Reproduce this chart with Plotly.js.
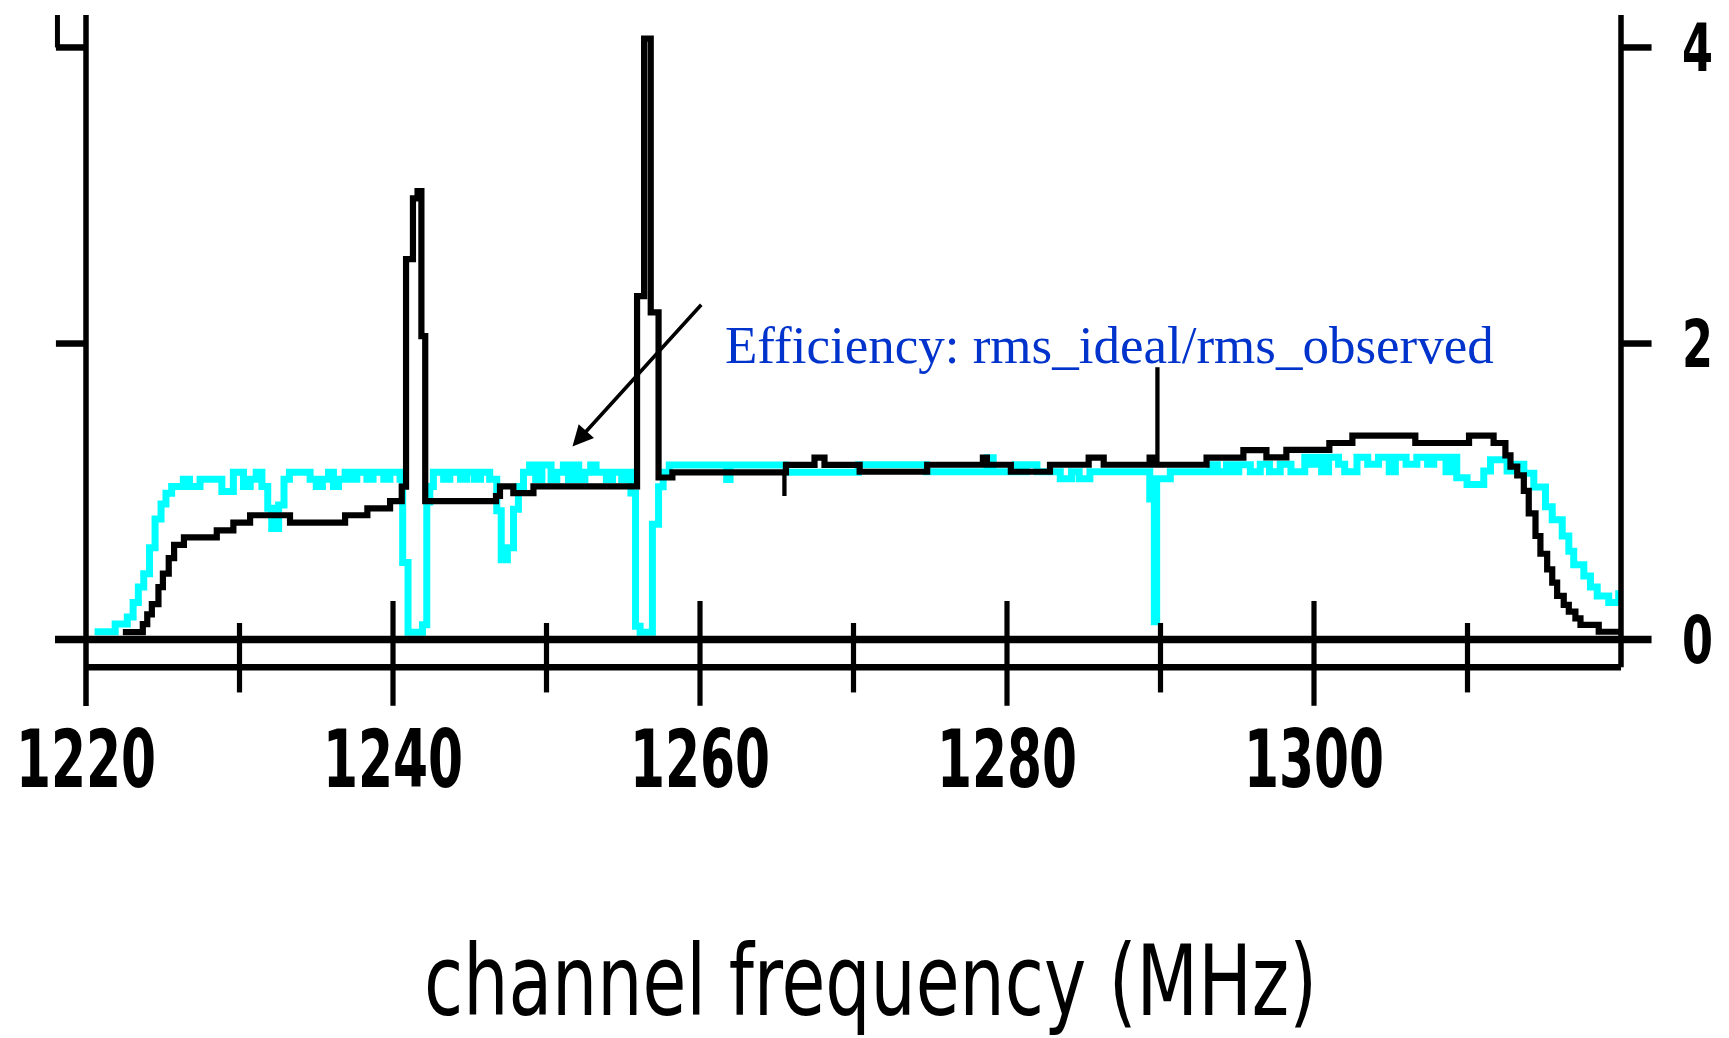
<!DOCTYPE html>
<html>
<head>
<meta charset="utf-8">
<script src="https://cdn.plot.ly/plotly-3.0.1.min.js"></script>
<style>
  html, body { margin: 0; padding: 0; background: #ffffff; }
  #chart { width: 1729px; height: 1038px; }
</style>
</head>
<body>
<div id="chart"></div>
<script>
// ---------------- data ----------------
// black trace: observed rms (step line)
const blackFreq = [1222.4, 1223.7, 1223.99, 1224.29, 1224.72, 1225.01, 1225.39, 1225.74, 1226.38, 1228.52,
  1229.6, 1230.69, 1233.29, 1236.88, 1238.33, 1239.81, 1240.57, 1240.85, 1241.3, 1241.6,
  1241.85, 1242.1, 1246.71, 1246.97, 1247.84, 1249.15, 1255.9, 1256.36, 1256.79, 1257.3,
  1258.2, 1265.6, 1267.46, 1268.11, 1270.4, 1274.8, 1278.43, 1278.69, 1280.25, 1282.8,
  1285.32, 1286.3, 1289.29, 1289.66, 1293.0, 1295.4, 1296.9, 1298.2, 1301.0, 1302.5,
  1306.6, 1310.1, 1311.7, 1312.47, 1312.8, 1313.24, 1313.67, 1313.99, 1314.43, 1314.75,
  1315.19, 1315.52, 1315.84, 1316.27, 1316.6, 1317.03, 1317.36, 1318.55, 1319.97];
const blackVal = [0.05, 0.105, 0.17, 0.24, 0.355, 0.445, 0.55, 0.64, 0.69, 0.738,
  0.79, 0.84, 0.79, 0.84, 0.887, 0.936, 1.033, 2.57, 2.98, 3.03,
  2.05, 0.936, 0.97, 1.035, 0.99, 1.035, 2.32, 4.06, 2.21, 1.095,
  1.13, 1.18, 1.229, 1.18, 1.134, 1.181, 1.229, 1.181, 1.134, 1.181,
  1.229, 1.181, 1.229, 1.181, 1.229, 1.28, 1.231, 1.281, 1.328, 1.378,
  1.328, 1.378, 1.328, 1.244, 1.169, 1.109, 1.004, 0.852, 0.70, 0.58,
  0.475, 0.385, 0.295, 0.234, 0.189, 0.144, 0.099, 0.053, 0.053];

// single-channel black glitches (thin strokes)
const glitchFreq = [1265.5, 1289.8];
const glitchFrom = [1.13, 1.18];
const glitchTo = [0.97, 1.84];

// cyan trace: efficiency rms_ideal / rms_observed (step line)
const cyanFreq = [1220.56, 1221.9, 1222.69, 1223.07, 1223.41, 1223.76, 1224.14, 1224.5, 1224.89, 1225.21,
  1225.58, 1226.34, 1226.74, 1227.43, 1228.85, 1229.6, 1230.26, 1230.7, 1231.09, 1231.46,
  1231.84, 1232.1, 1232.55, 1232.9, 1233.25, 1234.6, 1235.0, 1235.4, 1235.8, 1236.12,
  1236.45, 1236.88, 1237.25, 1237.64, 1238.3, 1238.7, 1239.4, 1239.8, 1240.46, 1240.63,
  1240.98, 1241.92, 1242.2, 1242.4, 1242.63, 1243.3, 1243.7, 1244.4, 1244.8, 1245.3,
  1245.7, 1246.3, 1246.76, 1247.05, 1247.45, 1247.85, 1248.17, 1248.5, 1248.9, 1249.3,
  1249.7, 1250.3, 1250.67, 1251.1, 1251.43, 1251.8, 1252.1, 1252.5, 1252.88, 1253.23,
  1253.9, 1254.3, 1254.9, 1255.2, 1255.5, 1255.8, 1256.1, 1256.9, 1257.3, 1257.6,
  1258.0, 1261.74, 1261.96, 1265.6, 1270.32, 1274.74, 1278.7, 1279.1, 1280.54, 1280.93,
  1281.26, 1281.95, 1283.47, 1284.2, 1284.7, 1285.4, 1289.3, 1289.6, 1289.75, 1290.64,
  1293.25, 1293.7, 1294.3, 1294.7, 1295.1, 1295.85, 1296.5, 1297.1, 1297.8, 1298.5,
  1299.4, 1299.8, 1300.2, 1300.5, 1300.95, 1301.6, 1302.0, 1302.8, 1303.5, 1304.2,
  1304.9, 1305.3, 1306.0, 1306.7, 1307.4, 1307.8, 1308.6, 1308.95, 1309.3, 1309.97,
  1311.06, 1311.5, 1312.58, 1312.9, 1313.67, 1314.32, 1315.08, 1315.52, 1316.17, 1316.6,
  1316.92, 1317.58, 1318.01, 1318.45, 1319.2, 1319.85, 1320.0];
const cyanVal = [0.053, 0.105, 0.153, 0.25, 0.355, 0.445, 0.62, 0.814, 0.916, 0.988,
  1.035, 1.083, 1.035, 1.083, 1.0, 1.13, 1.035, 1.083, 1.13, 1.035,
  0.887, 0.75, 0.91, 1.083, 1.13, 1.083, 1.035, 1.083, 1.13, 1.035,
  1.083, 1.13, 1.083, 1.13, 1.083, 1.13, 1.083, 1.13, 1.083, 0.52,
  0.05, 0.10, 0.93, 1.035, 1.13, 1.083, 1.13, 1.083, 1.13, 1.083,
  1.13, 1.083, 0.87, 0.54, 0.62, 0.88, 1.035, 1.13, 1.179, 1.082,
  1.179, 1.082, 1.13, 1.179, 1.082, 1.179, 1.082, 1.13, 1.179, 1.13,
  1.082, 1.13, 1.082, 1.13, 0.99, 0.09, 0.05, 0.78, 1.033, 1.13,
  1.179, 1.082, 1.179, 1.13, 1.181, 1.134, 1.229, 1.134, 1.181, 1.134,
  1.181, 1.134, 1.087, 1.134, 1.087, 1.134, 0.95, 0.12, 1.087, 1.134,
  1.181, 1.134, 1.181, 1.134, 1.181, 1.134, 1.184, 1.134, 1.184, 1.134,
  1.231, 1.184, 1.231, 1.134, 1.231, 1.184, 1.134, 1.231, 1.184, 1.231,
  1.134, 1.231, 1.184, 1.231, 1.184, 1.231, 1.134, 1.231, 1.094, 1.048,
  1.139, 1.215, 1.139, 1.184, 1.124, 1.03, 0.898, 0.81, 0.70, 0.596,
  0.506, 0.43, 0.355, 0.295, 0.25, 0.31, 0.31];

// axis ticks / labels
const xLabelTicks = [1220, 1240, 1260, 1280, 1300];
const xMajorTicks = [1240, 1260, 1280, 1300];
const xMinorTicks = [1230, 1250, 1270, 1290, 1310];
const yTicks = [0, 2, 4];
const xTitle = 'channel frequency (MHz)';
const noteText = 'Efficiency: rms_ideal/rms_observed';

// ---------------- layout helpers ----------------
const XR = [1220, 1320];
const YR = [-0.408, 4.253];
const px = v => (v - XR[0]) / (XR[1] - XR[0]);
const py = v => (v - YR[0]) / (YR[1] - YR[0]);
const pixelFont = "'DejaVu Sans Condensed', 'DejaVu Sans', sans-serif";

function seg(x0, y0, x1, y1, w) {
  return { type: 'line', xref: 'paper', yref: 'paper',
    x0: px(x0), y0: py(y0), x1: px(x1), y1: py(y1),
    line: { color: '#000000', width: w } };
}

const shapes = [];
shapes.push(seg(XR[0], 4.219, XR[0], -0.449, 5.5));      // left axis
shapes.push(seg(XR[1], 4.219, XR[1], -0.186, 5.5));      // right axis
shapes.push(seg(1217.98, 0, 1321.99, 0, 7.5));           // zero line
shapes.push(seg(XR[0], -0.186, XR[1], -0.186, 6.5));     // lower rule
yTicks.filter(v => v !== 0).forEach(v => {
  shapes.push(seg(1218.04, v, XR[0], v, 6.5));
  shapes.push(seg(XR[1], v, 1321.99, v, 6.5));
});
shapes.push(seg(1218.14, 4, 1218.14, 4.219, 5));          // remnant stroke at top left
xMajorTicks.forEach(v => shapes.push(seg(v, 0.261, v, -0.447, 5.2)));
xMinorTicks.forEach(v => shapes.push(seg(v, 0.112, v, -0.357, 5.2)));

// ---------------- traces ----------------
const glitchX = [], glitchY = [];
glitchFreq.forEach((f, i) => { glitchX.push(f, f, null); glitchY.push(glitchFrom[i], glitchTo[i], null); });

const traces = [
  { x: cyanFreq, y: cyanVal, type: 'scatter', mode: 'lines',
    line: { shape: 'hv', color: '#00ffff', width: 7 }, hoverinfo: 'skip', name: 'efficiency' },
  { x: blackFreq, y: blackVal, type: 'scatter', mode: 'lines',
    line: { shape: 'hv', color: '#000000', width: 6.2 }, hoverinfo: 'skip', name: 'rms' },
  { x: glitchX, y: glitchY, type: 'scatter', mode: 'lines',
    line: { color: '#000000', width: 4.3 }, hoverinfo: 'skip', name: 'glitch' }
];

const layout = {
  width: 1729, height: 1038,
  margin: { l: 86, r: 108, t: 10, b: 338 },
  paper_bgcolor: '#ffffff', plot_bgcolor: '#ffffff',
  showlegend: false,
  xaxis: {
    range: XR, showgrid: false, zeroline: false, showline: false, ticks: '',
    tickmode: 'array', tickvals: xLabelTicks, ticktext: xLabelTicks.map(String),
    ticklabelstandoff: 6, ticklabeloverflow: 'allow',
    tickfont: { family: pixelFont, size: 80, weight: 'bold', color: '#000000' },
    title: { text: xTitle, standoff: 164, font: { family: pixelFont, size: 98, color: '#000000' } }
  },
  yaxis: {
    range: YR, side: 'right', showgrid: false, zeroline: false, showline: false, ticks: '',
    tickmode: 'array', tickvals: yTicks, ticktext: yTicks.map(String),
    ticklabelstandoff: 60, ticklabeloverflow: 'allow',
    tickfont: { family: pixelFont, size: 66, weight: 'bold', color: '#000000' }
  },
  shapes: shapes,
  annotations: [
    { xref: 'x', yref: 'y', x: 1251.69, y: 1.305, ax: 1260.17, ay: 2.272, axref: 'x', ayref: 'y',
      text: '', showarrow: true, arrowhead: 2, arrowsize: 1.15, arrowwidth: 3.6, arrowcolor: '#000000' },
    { xref: 'x', yref: 'y', x: 1261.47, y: 1.99, xanchor: 'left', yanchor: 'middle',
      text: noteText, showarrow: false,
      font: { family: "'Liberation Serif', 'DejaVu Serif', serif", size: 53, color: '#0033cc' } }
  ]
};

// squeeze the sans labels horizontally to the narrow look of the original lettering
function narrow(gd) {
  const fit = (sel, len) => gd.querySelectorAll(sel).forEach(t => {
    t.setAttribute('textLength', len);
    t.setAttribute('lengthAdjust', 'spacingAndGlyphs');
  });
  fit('.xtick text', 140);
  fit('.ytick text', 31);
  fit('.g-xtitle text', 893);
  // the original title sits a little right of the plot centre
  gd.querySelectorAll('.g-xtitle text').forEach(t => {
    const x = parseFloat(t.getAttribute('x'));
    if (!isNaN(x)) t.setAttribute('x', x + 17);
  });
}

Plotly.newPlot('chart', traces, layout, { displayModeBar: false, staticPlot: true })
  .then(narrow);
</script>
</body>
</html>
